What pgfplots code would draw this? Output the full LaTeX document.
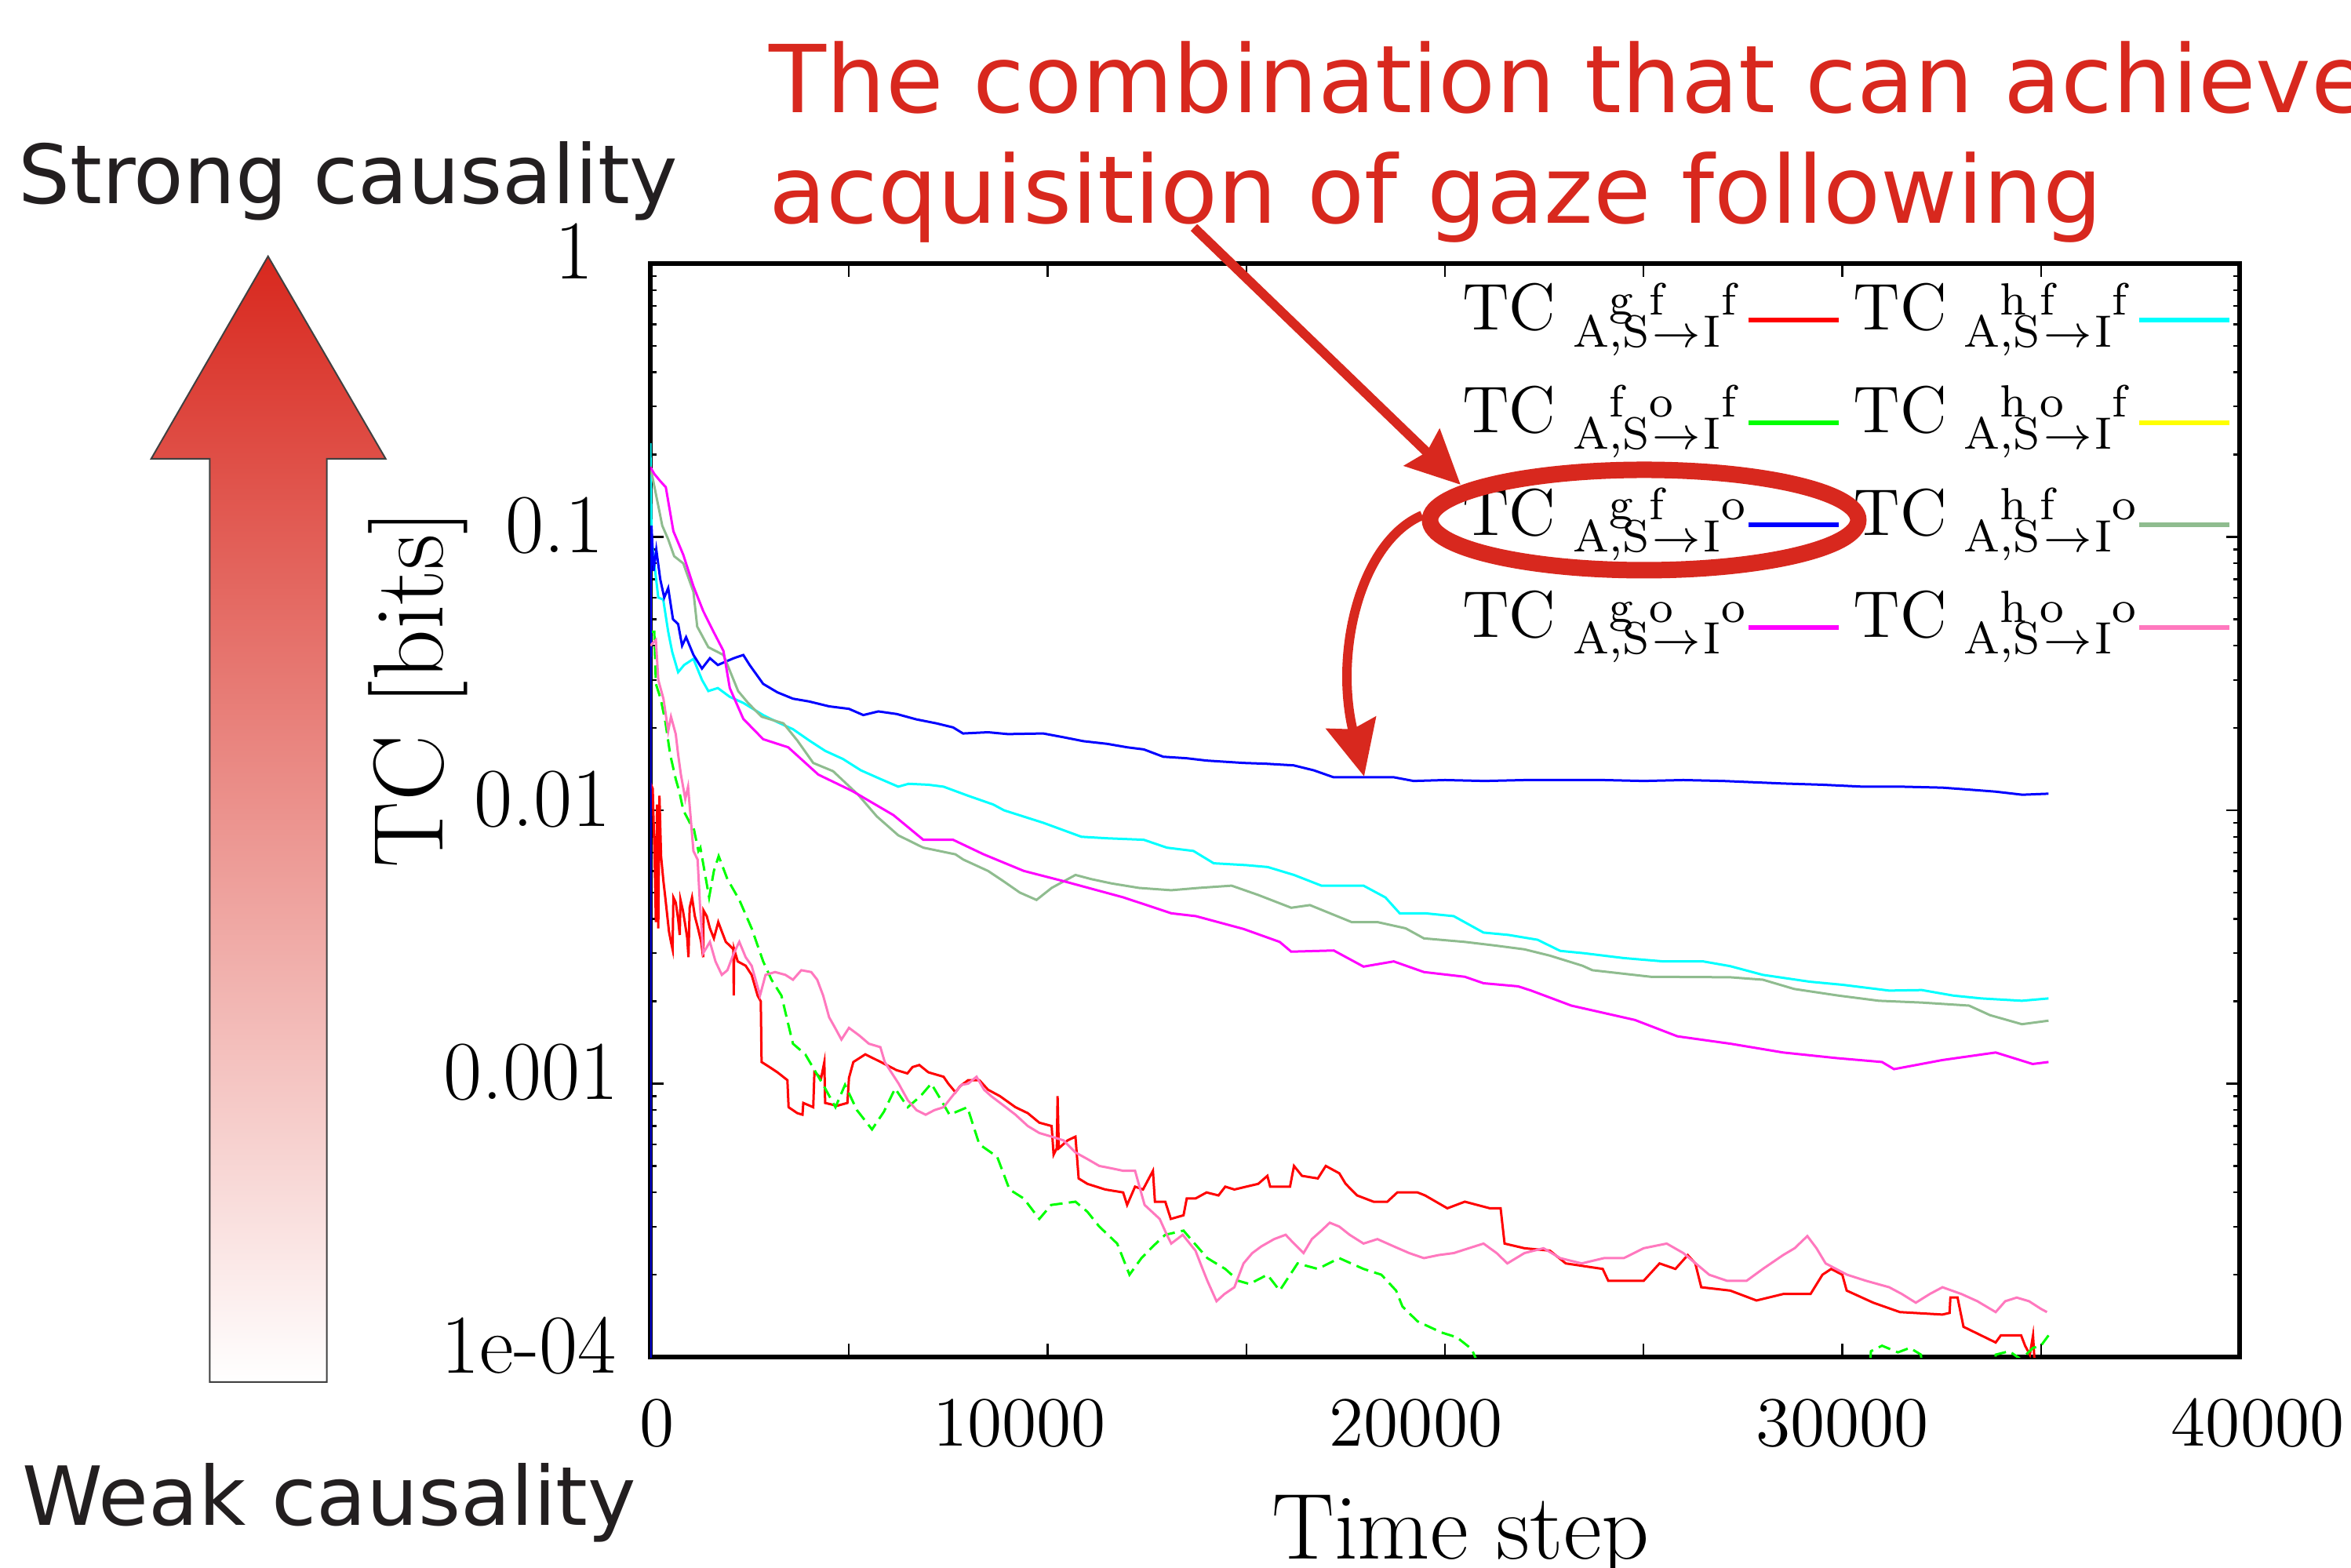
\RequirePackage{fix-cm}
\documentclass[border=0pt]{standalone}
\usepackage{fontspec}
\usepackage{pgfplots}
\pgfplotsset{compat=1.18}
\usetikzlibrary{arrows.meta}
\newfontfamily\dejavu{DejaVu Sans}
\definecolor{annred}{RGB}{216,40,30}
\definecolor{darktext}{RGB}{35,31,32}
\definecolor{sage}{RGB}{143,188,143}
\definecolor{pinkc}{RGB}{255,120,190}
\definecolor{pred}{RGB}{255,0,0}
\definecolor{pcyan}{RGB}{0,255,255}
\definecolor{pgreen}{RGB}{0,255,0}
\definecolor{pyellow}{RGB}{255,255,0}
\definecolor{pblue}{RGB}{0,0,255}
\definecolor{pmag}{RGB}{255,0,255}
% legend label: TC with subscript A^a,S^b -> I^c
\newcommand{\tcl}[3]{TC\hspace{1.1mm}\raisebox{-3pt}{\fontsize{8.2}{9}\selectfont
  A\rlap{\raisebox{5.8pt}{#1}},S\rlap{\raisebox{5.8pt}{#2}}\hspace{0.6pt}$\rightarrow$\hspace{0.6pt}I\raisebox{5.8pt}{#3}}}

\begin{document}
\begin{tikzpicture}
\begin{axis}[
    at={(41.45mm,-86.5mm)}, anchor=south west,
    scale only axis, width=101.3mm, height=69.7mm,
    ymode=log, xmin=0, xmax=40000, ymin=1e-4, ymax=1,
    xtick={0,5000,...,40000},
    xticklabels={{\hspace*{0.9mm}0},,{10000\hspace*{3.6mm}},,{20000\hspace*{3.7mm}},,30000,,{\hspace*{2.3mm}40000}},
    ytick={1e-4,1e-3,1e-2,1e-1,1},
    yticklabels={{1e-04\hspace*{-0.35mm}},{0.001\hspace*{-0.5mm}},{0.01},{0.1\hspace*{0.45mm}},{1\hspace*{1.1mm}}},
    scaled x ticks=false,
    tick align=inside,
    major tick length=0.85mm, minor tick length=0.4mm,
    every tick/.style={black, line width=0.12mm},
    axis line style={line width=0.28mm},
    xticklabel style={font=\fontsize{12.8}{14}\selectfont, anchor=base, inner sep=0pt, yshift=-5.65mm},
    yticklabel style={font=\fontsize{15.2}{17}\selectfont, anchor=base east, inner sep=0pt, xshift=-2.45mm, yshift=-1mm},
    legend columns=2,
    legend plot pos=right,
    legend cell align=left,
    legend style={draw=none, fill=none, at={(rel axis cs:0.5109,0.9864)}, anchor=north west,
        inner sep=0pt, outer sep=0pt, column sep=0pt, row sep=0pt,
        font=\fontsize{12}{14}\selectfont,
        nodes={inner sep=0pt, text height=3.3mm, text depth=3.23mm}},
    legend image code/.code={\draw[#1, solid, line width=0.3mm] (0.2mm,0.6mm) -- (5.95mm,0.6mm); \path[draw=none] (0mm,0mm) -- (6.9mm,0mm);},
    every axis plot/.append style={line width=0.15mm},
]
% red
\addplot[pred] coordinates {
(0,0.0126) (60,0.012) (110,0.0065) (140,0.0039) (170,0.0105) (200,0.0037) (230,0.0113) (270,0.0068)
(330,0.0055) (370,0.0049) (420,0.0042) (470,0.0036) (520,0.0033) (560,0.0031) (580,0.0048) (640,0.0046)
(700,0.004) (740,0.0035) (760,0.0047) (820,0.0043) (880,0.0038) (930,0.0034) (960,0.0029) (990,0.0044)
(1050,0.0048) (1120,0.0041) (1200,0.0037) (1280,0.0033) (1330,0.0029) (1340,0.0043) (1420,0.0041)
(1500,0.0037) (1600,0.0034) (1710,0.0039) (1800,0.0036) (1900,0.0033) (2000,0.0032) (2090,0.0031)
(2100,0.0021) (2110,0.0031) (2200,0.0028) (2400,0.0027) (2550,0.0025) (2700,0.0021) (2780,0.002)
(2800,0.0012) (3000,0.00115) (3200,0.0011) (3450,0.00103) (3480,0.00082) (3700,0.00078) (3830,0.00077)
(3850,0.00085) (4100,0.00082) (4130,0.0011) (4300,0.00105) (4380,0.0012) (4400,0.00085) (4700,0.00083)
(4960,0.00085) (5000,0.00105) (5110,0.0012) (5410,0.00128) (5800,0.0012) (6200,0.00112) (6470,0.00109)
(6600,0.00115) (6770,0.00117) (7000,0.0011) (7380,0.00106) (7500,0.001) (7680,0.00093) (7800,0.00098)
(8000,0.00103) (8280,0.00103) (8500,0.00095) (8800,0.0009) (9190,0.00082) (9500,0.00078) (9790,0.00072)
(10100,0.0007) (10150,0.00055) (10230,0.00058) (10250,0.0009) (10280,0.00058) (10500,0.00062)
(10700,0.00064) (10780,0.00045) (11000,0.00043) (11450,0.00041) (11900,0.0004) (12000,0.00036)
(12200,0.00042) (12400,0.00041) (12650,0.00048) (12700,0.00037) (12960,0.00037) (13100,0.00032)
(13420,0.00033) (13500,0.00038) (13720,0.00038) (14000,0.0004) (14300,0.00039) (14470,0.00042)
(14700,0.00041) (15000,0.00042) (15300,0.00043) (15530,0.00046) (15600,0.00042) (16100,0.00042)
(16200,0.0005) (16400,0.00046) (16800,0.00045) (17000,0.0005) (17340,0.00047) (17500,0.00043)
(17790,0.00039) (18200,0.00037) (18550,0.00037) (18800,0.0004) (19310,0.0004) (19500,0.00039)
(20060,0.00035) (20500,0.00037) (21130,0.00035) (21400,0.00035) (21500,0.00026) (22000,0.00025)
(22640,0.000245) (23040,0.00022) (23970,0.00021) (24110,0.00019) (25000,0.00019) (25400,0.00022)
(25800,0.00021) (26110,0.000236) (26300,0.00022) (26450,0.00018) (27180,0.000175) (27840,0.000161)
(28510,0.00017) (29200,0.00017) (29500,0.0002) (29720,0.00021) (30000,0.0002) (30110,0.000175)
(30780,0.000158) (31450,0.000146) (32520,0.000143) (32700,0.000145) (32720,0.000165) (32900,0.000165)
(33050,0.000129) (33860,0.000113) (33990,0.00012) (34500,0.00012) (34600,0.00011) (34720,0.000102)
(34800,0.00012) (34850,0.00009) (35000,0.00008)
};
\addlegendentry{\tcl{g}{f}{f}}
% cyan
\addplot[pcyan] coordinates {
(0,0.22) (30,0.1) (100,0.08) (200,0.06) (325,0.059) (450,0.045) (550,0.038) (700,0.032) (850,0.034)
(1085,0.0358) (1300,0.03) (1460,0.0273) (1700,0.028) (2000,0.026) (2340,0.0247) (2840,0.0223)
(3200,0.021) (3590,0.0198) (4000,0.018) (4400,0.0165) (4850,0.0154) (5300,0.014) (5800,0.013)
(6240,0.0122) (6500,0.0125) (7000,0.0124) (7380,0.0122) (8000,0.0113) (8630,0.0105) (8900,0.01)
(9890,0.009) (10850,0.008) (11500,0.0079) (12420,0.0078) (13000,0.0073) (13670,0.0071) (14180,0.0064)
(15000,0.0063) (15540,0.0062) (16200,0.0058) (16890,0.0053) (17950,0.0053) (18500,0.0048) (18860,0.0042)
(19500,0.0042) (20220,0.0041) (20970,0.00357) (21600,0.0035) (22330,0.00336) (22900,0.00306)
(23500,0.003) (24500,0.00288) (25500,0.0028) (26500,0.0028) (27180,0.00269) (28000,0.0025)
(29180,0.00236) (30000,0.0023) (31180,0.00219) (32000,0.0022) (32790,0.0021) (33500,0.00205)
(34520,0.00201) (35190,0.00205)
};
\addlegendentry{\tcl{h}{f}{f}}
% green
\addplot[pgreen, dash pattern=on 0.8mm off 0.4mm] coordinates {
(0,0.045) (100,0.045) (140,0.029) (260,0.0256) (380,0.021) (500,0.016) (640,0.013) (730,0.0117)
(830,0.01) (1030,0.0088) (1085,0.0087) (1210,0.0071) (1260,0.0073) (1480,0.0048) (1600,0.006)
(1720,0.0068) (1940,0.0056) (2240,0.0047) (2550,0.0037) (2840,0.0028) (3050,0.0024) (3300,0.0021)
(3450,0.0017) (3590,0.0014) (3900,0.00128) (4350,0.00099) (4660,0.00082) (4900,0.00099) (5200,0.0008)
(5580,0.00068) (5880,0.00079) (6160,0.00096) (6480,0.00082) (6800,0.0009) (7070,0.001) (7300,0.00088)
(7530,0.00077) (7980,0.00082) (8280,0.0006) (8730,0.00054) (9040,0.00041) (9400,0.00038) (9790,0.00032)
(10090,0.00036) (10700,0.00037) (11000,0.00034) (11300,0.0003) (11750,0.00026) (12060,0.0002)
(12360,0.00023) (12650,0.000254) (12960,0.00028) (13420,0.00029) (13700,0.00026) (14020,0.00023)
(14470,0.00021) (14800,0.00019) (15080,0.000185) (15530,0.0002) (15840,0.000175) (16290,0.00022)
(16800,0.00021) (17340,0.00023) (17950,0.00021) (18400,0.0002) (18770,0.000175) (18930,0.000153)
(19310,0.000135) (19910,0.000123) (20300,0.000118) (20670,0.000107) (20900,0.00009) (21200,0.00003)
(30500,0.00003) (30720,0.000105) (31000,0.00011) (31400,0.000104) (31700,0.000108) (31980,0.000102)
(32200,0.00003) (33700,0.00003) (33860,0.000102) (34200,0.000105) (34500,0.000098) (34800,0.000108)
(35000,0.00011) (35190,0.00012)
};
\addlegendentry{\tcl{f}{o}{f}}
% yellow (below the plotted range)
\addplot[pyellow] coordinates {(0,0.000001) (35000,0.000001)};
\addlegendentry{\tcl{h}{o}{f}}
% blue
\addplot[pblue] coordinates {
(0,0.000001) (5,0.09) (30,0.11) (80,0.075) (150,0.09) (250,0.07) (350,0.06) (450,0.065) (570,0.05)
(700,0.048) (800,0.04) (900,0.043) (1086,0.037) (1300,0.033) (1500,0.036) (1700,0.034) (1900,0.035)
(2100,0.036) (2340,0.037) (2500,0.034) (2840,0.029) (3200,0.027) (3590,0.0256) (4000,0.025)
(4500,0.024) (5000,0.0235) (5360,0.0223) (5740,0.023) (6200,0.0225) (6700,0.0215) (7200,0.0208)
(7620,0.0201) (7870,0.0191) (8500,0.0193) (9000,0.019) (9890,0.0191) (10400,0.0185) (10900,0.0179)
(11500,0.0175) (12000,0.017) (12420,0.0167) (12910,0.0157) (13500,0.0155) (14000,0.0152)
(14930,0.0149) (15500,0.0148) (16190,0.0146) (16700,0.014) (17200,0.0132) (18000,0.0132)
(18720,0.0132) (19210,0.0128) (20000,0.0129) (21000,0.0128) (22000,0.0129) (23180,0.0129)
(24000,0.0129) (25000,0.0128) (26000,0.0129) (27000,0.0128) (28510,0.01253) (29500,0.0124)
(30520,0.0122) (31500,0.0122) (32520,0.0121) (33200,0.0119) (33860,0.0117) (34530,0.0114) (35190,0.0115)
};
\addlegendentry{\tcl{g}{f}{o}}
% sage
\addplot[sage] coordinates {
(0,0.17) (20,0.175) (200,0.13) (300,0.11) (450,0.098) (600,0.085) (830,0.08) (1085,0.063) (1180,0.047)
(1460,0.0395) (1840,0.037) (2210,0.0273) (2460,0.0247) (2800,0.022) (3350,0.0208) (3700,0.018)
(4100,0.0149) (4600,0.0139) (5230,0.0114) (5700,0.0095) (6240,0.0081) (6870,0.0073) (7680,0.0069)
(7880,0.0066) (8500,0.006) (8890,0.0055) (9300,0.005) (9720,0.0047) (10100,0.0052) (10700,0.0058)
(11100,0.0056) (11610,0.0054) (12300,0.0052) (13110,0.0051) (13800,0.0052) (14630,0.0053)
(15300,0.0049) (16130,0.0044) (16600,0.0045) (17650,0.0039) (18300,0.0039) (19010,0.0037)
(19470,0.0034) (20500,0.0033) (21270,0.0032) (22000,0.0031) (22640,0.00294) (23460,0.0027)
(23710,0.0026) (25180,0.00246) (27180,0.00245) (28000,0.0024) (28790,0.00222) (29900,0.0021)
(30920,0.00201) (32000,0.00198) (33190,0.00193) (33720,0.00178) (34520,0.00165) (35190,0.0017)
};
\addlegendentry{\tcl{h}{f}{o}}
% magenta
\addplot[pmag] coordinates {
(0,0.18) (100,0.17) (250,0.16) (390,0.152) (580,0.105) (830,0.086) (1085,0.066) (1330,0.0536)
(1580,0.0453) (1840,0.0383) (2000,0.028) (2340,0.0216) (2840,0.0182) (3470,0.017) (4230,0.0135)
(4960,0.012) (5110,0.0117) (6120,0.0096) (6870,0.0078) (7620,0.0078) (8390,0.0069) (9400,0.006)
(10410,0.0055) (11910,0.0048) (13110,0.0042) (13730,0.0041) (14930,0.00368) (15840,0.0033)
(16130,0.00304) (17200,0.00307) (17950,0.00268) (18710,0.0028) (19470,0.00256) (20500,0.00246)
(20970,0.00233) (21840,0.00227) (22170,0.00219) (23180,0.00193) (24780,0.00171) (25850,0.00149)
(27180,0.0014) (28510,0.0013) (29860,0.00124) (31000,0.0012) (31300,0.00113) (32520,0.00122)
(33860,0.0013) (34790,0.00118) (35190,0.0012)
};
\addlegendentry{\tcl{g}{o}{o}}
% pink
\addplot[pinkc] coordinates {
(0,0.04) (140,0.042) (200,0.03) (330,0.0256) (450,0.0195) (520,0.022) (640,0.019) (700,0.016)
(770,0.0135) (880,0.011) (950,0.0122) (1085,0.0071) (1190,0.0066) (1250,0.0045) (1330,0.003)
(1500,0.0033) (1640,0.0028) (1800,0.0025) (1940,0.0026) (2100,0.003) (2240,0.0033) (2400,0.0029)
(2550,0.0027) (2650,0.0024) (2760,0.0021) (2900,0.0025) (3140,0.00256) (3400,0.0025) (3590,0.0024)
(3800,0.0026) (4050,0.00256) (4200,0.0024) (4350,0.0021) (4500,0.00175) (4650,0.0016) (4810,0.00145)
(5000,0.0016) (5260,0.0015) (5500,0.0014) (5790,0.00136) (5900,0.0012) (6030,0.00112) (6250,0.001)
(6480,0.00087) (6700,0.0008) (6930,0.00077) (7150,0.0008) (7380,0.00082) (7600,0.0009) (7830,0.00099)
(8000,0.001) (8210,0.00106) (8400,0.00095) (8580,0.0009) (8900,0.00083) (9190,0.00077) (9500,0.0007)
(9790,0.00066) (10100,0.00064) (10400,0.00062) (10700,0.00056) (11000,0.00053) (11300,0.0005)
(11610,0.00049) (11900,0.00048) (12200,0.00048) (12440,0.00036) (12820,0.00032) (13000,0.00028)
(13110,0.00026) (13400,0.00028) (13720,0.000245) (13900,0.00021) (14020,0.00019) (14250,0.00016)
(14450,0.00017) (14700,0.00018) (14930,0.00022) (15150,0.00024) (15380,0.000254) (15700,0.00027)
(15990,0.00028) (16200,0.00026) (16440,0.00024) (16650,0.00027) (16890,0.00029) (17100,0.00031)
(17340,0.0003) (17600,0.00028) (17950,0.00026) (18300,0.00027) (18710,0.000254) (19100,0.00024)
(19470,0.00023) (19840,0.000236) (20220,0.00024) (20600,0.00025) (20970,0.00026) (21300,0.00024)
(21570,0.00022) (22000,0.00024) (22480,0.00025) (22900,0.00023) (23440,0.00022) (24000,0.00023)
(24500,0.00023) (25000,0.00025) (25580,0.00026) (26000,0.00024) (26650,0.0002) (27100,0.00019)
(27590,0.00019) (28000,0.00021) (28510,0.000236) (28800,0.00025) (29120,0.000277) (29350,0.00025)
(29580,0.00022) (30120,0.0002) (30600,0.00019) (31180,0.00018) (31500,0.00017) (31850,0.000158)
(32200,0.00017) (32520,0.00018) (33000,0.00017) (33400,0.00016) (33860,0.000146) (34100,0.00016)
(34390,0.000165) (34700,0.00016) (35000,0.00015) (35150,0.000146)
};
\addlegendentry{\tcl{h}{o}{o}}
\end{axis}

\begin{scope}[x=0.05mm, y=-0.05mm]
% gradient arrow
\shadedraw[top color=annred, bottom color=white, draw=black!75, line width=0.1mm]
  (341.7,326.8) -- (491.7,585) -- (416.7,585) -- (416.7,1762) -- (267.3,1762) -- (267.3,585) -- (192.7,585) -- cycle;
\node[anchor=base west, inner sep=0pt, text=darktext, font=\dejavu\fontsize{14.8}{17}\selectfont] at (22,260) {Strong causality};
\node[anchor=base west, inner sep=0pt, text=darktext, font=\dejavu\fontsize{14.8}{17}\selectfont] at (27,1945) {Weak causality};
% title
\node[anchor=base west, inner sep=0pt, text=annred, font=\dejavu\fontsize{17}{20}\selectfont] at (979,144) {The combination that can achieve};
\node[anchor=base west, inner sep=0pt, text=annred, font=\dejavu\fontsize{17}{20}\selectfont] at (979,285) {acquisition of gaze following};
% axis labels
\node[rotate=90, anchor=base, inner sep=0pt, font=\fontsize{18}{20}\selectfont] at (565,878) {TC [bits]};
\node[anchor=base, inner sep=0pt, font=\fontsize{17}{19}\selectfont] at (1862,1988) {Time step};
% annotation arrows
\draw[annred, line width=0.6mm, -{Stealth[length=3.4mm, width=3.2mm, inset=0.4mm]}] (1522,290) -- (1862,618);
\draw[annred, line width=1.05mm] (2096,663) ellipse [x radius=13.65mm, y radius=3.2mm];
\draw[annred, line width=0.6mm, -{Stealth[length=3.5mm, width=3.2mm, inset=0.4mm]}] (1813,657) .. controls (1735,690) and (1700,830) .. (1739,990);
\end{scope}
\pgfresetboundingbox
\path[use as bounding box] (0,0) rectangle (149.85mm,-99.95mm);
\end{tikzpicture}
\end{document}
